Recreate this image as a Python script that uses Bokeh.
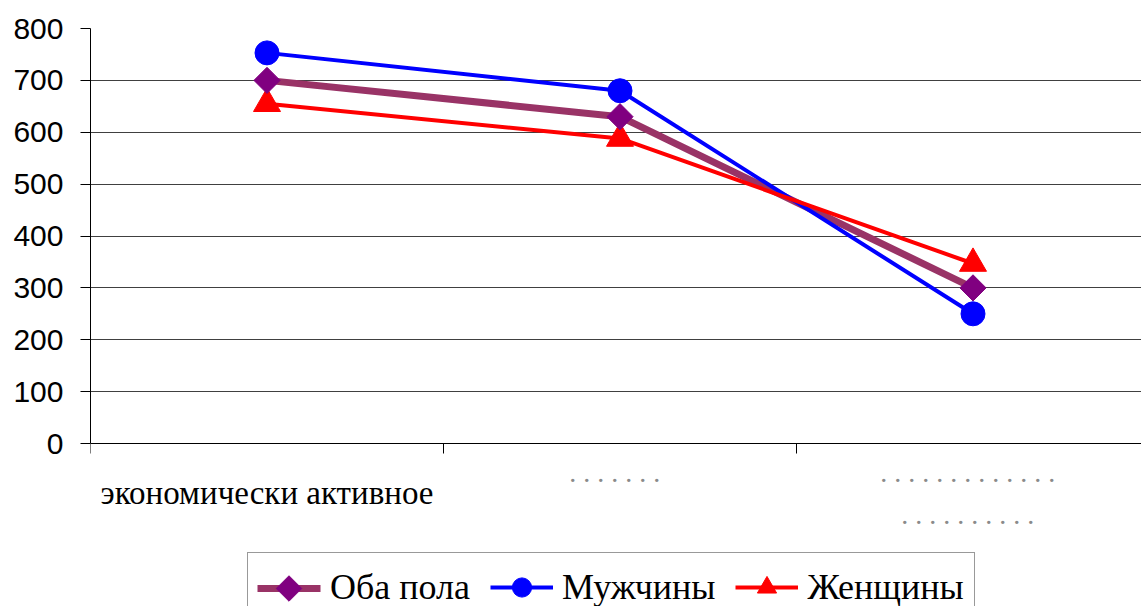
import numpy as np
from bokeh.plotting import figure
from bokeh.models import (Range1d, FixedTicker, Legend, LegendItem, ColumnDataSource)
from bokeh.core.properties import value
from bokeh.embed import file_html
from bokeh.resources import INLINE

# ---- data ----
categories = ["экономически активное",
              ". . . . . . .",
              ". . . . . . . . . . . . .\n. . . . . . . . . ."]
both = [700, 630, 300]
men = [753, 680, 250]
women = [655, 588, 347]
series_names = ["Оба пола", "Мужчины", "Женщины"]
y_ticks = [0, 100, 200, 300, 400, 500, 600, 700, 800]

xs = [i + 0.5 for i in range(len(categories))]

# ---- layout ----
W, H = 1141, 606
left, top = 90, 28
fb = H                   # frame reaches the bottom of the canvas
zero_px = 443            # where value 0 sits
px_per_unit = (zero_px - top) / 800.0
ymin = 800 - (fb - top) / px_per_unit
unit = 353.0

p = figure(width=W, height=H, output_backend="svg", toolbar_location=None,
           x_range=Range1d(0, (W - left) / unit), y_range=Range1d(ymin, 800),
           min_border_left=left, min_border_right=0, min_border_top=top,
           min_border_bottom=0)
p.outline_line_color = None
p.background_fill_color = "white"
p.border_fill_color = "white"

# y axis
p.yaxis.ticker = FixedTicker(ticks=y_ticks)
p.yaxis.bounds = (0, 800)
p.yaxis.major_label_text_font = "Liberation Sans"
p.yaxis.major_label_text_font_size = "30px"
p.yaxis.major_label_text_color = "black"
p.yaxis.major_tick_out = 10
p.yaxis.major_tick_in = 0
p.yaxis.minor_tick_line_color = None
p.yaxis.major_label_standoff = 17
p.yaxis.axis_line_color = "black"
p.yaxis.major_tick_line_color = "black"

# x axis drawn at value 0
bounds_ticks = list(range(len(categories) + 1))
p.xaxis.ticker = FixedTicker(ticks=bounds_ticks)
p.xaxis.major_label_overrides = {t: "" for t in bounds_ticks}
p.xaxis.fixed_location = 0
p.xaxis.major_label_standoff = 0
p.xaxis.major_tick_out = 10
p.xaxis.major_tick_in = 0
p.xaxis.minor_tick_line_color = None
p.xaxis.axis_line_color = "black"
p.xaxis.major_tick_line_color = "black"

p.xgrid.grid_line_color = None
p.ygrid.ticker = FixedTicker(ticks=y_ticks[1:])
p.ygrid.grid_line_color = "#404040"
p.ygrid.grid_line_width = 1

src = ColumnDataSource(dict(x=xs, both=both, men=men, women=women))

l1 = p.line("x", "both", source=src, line_color="#993366", line_width=7)
l2 = p.line("x", "men", source=src, line_color="#0000FF", line_width=4)
l3 = p.line("x", "women", source=src, line_color="#FF0000", line_width=4)
s3 = p.scatter("x", "women", source=src, marker="triangle", size=27,
               fill_color="#FF0000", line_color="#FF0000")
s2 = p.scatter("x", "men", source=src, marker="circle", size=24,
               fill_color="#0000FF", line_color="#0000FF")
s1 = p.scatter("x", "both", source=src, marker="square", angle=np.pi / 4, size=18.5,
               fill_color="#800080", line_color="#800080")

# ---- category labels (below the axis) ----
def ydata(page_y):
    return (zero_px - page_y) / px_per_unit

def xdata(page_x):
    return (page_x - left) / unit

main_x, main_t, dot_x, dot_y, dot_t = [], [], [], [], []
for i, c in enumerate(categories):
    parts = c.split("\n")
    if parts[0].startswith("."):
        for j, ln in enumerate(parts):
            dot_x.append(xs[i] - 0.015)
            dot_y.append(ydata(472 + 42 * j))
            dot_t.append(ln)
    else:
        main_x.append(xs[i])
        main_t.append(c)

p.text(x=main_x, y=[ydata(492)] * len(main_x), text=main_t,
       text_align="center", text_baseline="middle",
       text_font=value("Liberation Serif"), text_font_size="33px", text_color="black")
p.text(x=dot_x, y=dot_y, text=dot_t,
       text_align="center", text_baseline="alphabetic",
       text_font=value("Liberation Serif"), text_font_size="28px", text_color="#8a8a8a")

# ---- legend ----
leg_left, leg_top, pad, gh, gw = 247, 554, 10, 48, 63
leg_h = 2 * pad + gh
cx, cy = leg_left + pad + gw / 2, leg_top + pad + gh / 2

# key of the first entry (line with a diamond on top), drawn under a transparent legend
p.segment(x0=[xdata(leg_left + pad)], x1=[xdata(leg_left + pad + gw)],
          y0=[ydata(cy)], y1=[ydata(cy)], line_color="#993366", line_width=7)
p.scatter(x=[xdata(cx)], y=[ydata(cy)], marker="square", angle=np.pi / 4, size=18,
          fill_color="#800080", line_color="#800080")
key1 = p.line(x=[], y=[], line_color="#993366", line_width=7, line_alpha=0)

legend = Legend(items=[LegendItem(label=series_names[0], renderers=[key1]),
                       LegendItem(label=series_names[1], renderers=[l2, s2]),
                       LegendItem(label=series_names[2], renderers=[l3, s3])],
                orientation="horizontal",
                location=(leg_left - left, fb - (leg_top + leg_h)),
                label_text_font="Liberation Serif", label_text_font_size="36px",
                label_text_color="black",
                glyph_width=gw, glyph_height=gh, label_standoff=9, spacing=20,
                padding=pad, margin=0, border_line_color="#333333", border_line_width=1,
                background_fill_alpha=0)
p.add_layout(legend, "center")

open("out.html", "w").write(file_html(p, INLINE))
